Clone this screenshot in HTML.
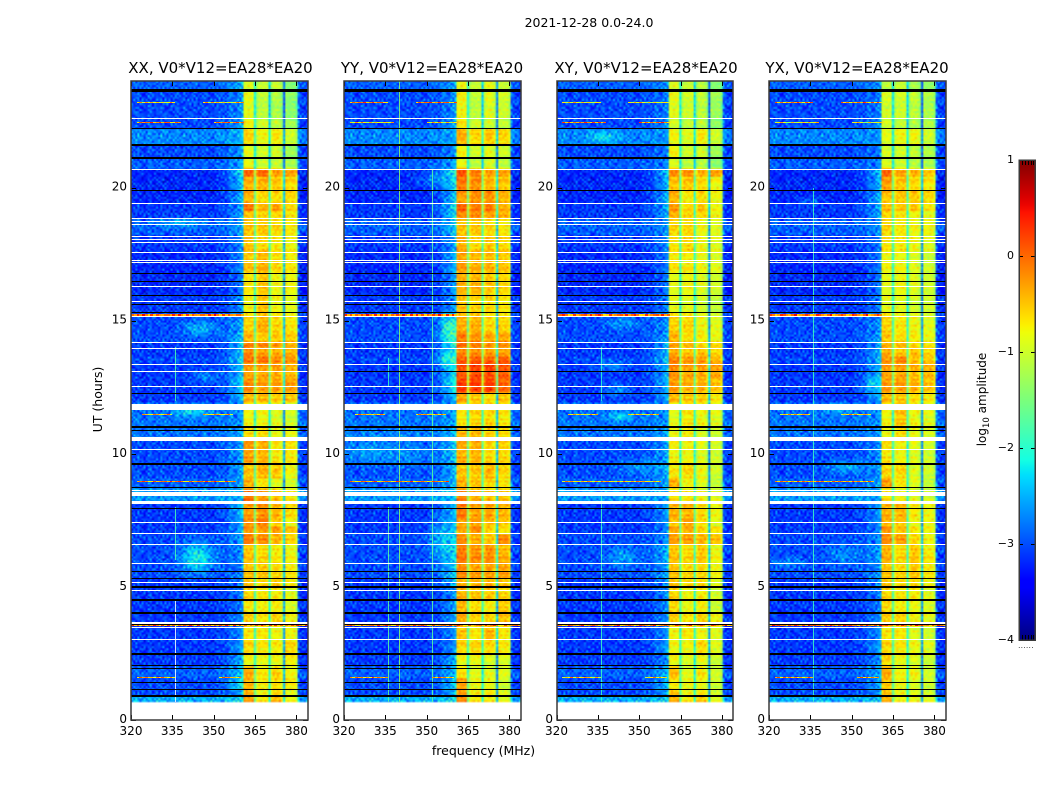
<!DOCTYPE html>
<html>
<head>
<meta charset="utf-8">
<title>2021-12-28 spectrograms</title>
<style>
html,body{margin:0;padding:0;background:#fff;}
#stage{position:relative;width:1050px;height:800px;overflow:hidden;background:#fff;}
#stage canvas{position:absolute;display:block;}
#overlay{position:absolute;left:0;top:0;}
text{font-family:"DejaVu Sans","Liberation Sans",sans-serif;fill:#000;}
</style>
</head>
<body>
<div id="stage">
<svg id="overlay" width="1050" height="800" viewBox="0 0 1050 800" xmlns="http://www.w3.org/2000/svg">
<text x="589" y="27" font-size="12.5" text-anchor="middle">2021-12-28 0.0-24.0</text>
<text x="483.5" y="755" font-size="12.5" text-anchor="middle">frequency (MHz)</text>
<text x="0" y="0" font-size="12.5" text-anchor="middle" transform="translate(102 399.5) rotate(-90)">UT (hours)</text>
<text x="0" y="0" font-size="12" text-anchor="middle" transform="translate(986 399.5) rotate(-90)">log<tspan font-size="8.5" dy="3">10</tspan><tspan dy="-3"> amplitude</tspan></text>
<text x="1026" y="648" font-size="7" fill="#666" text-anchor="middle" letter-spacing="0.4">......</text>
</svg>
</div>
<script>
// ---------- chart data ----------
const panelTitles = ['XX, V0*V12=EA28*EA20','YY, V0*V12=EA28*EA20','XY, V0*V12=EA28*EA20','YX, V0*V12=EA28*EA20'];
const xTicks = [320,335,350,365,380];
const yTicks = [0,5,10,15,20];
const colorbarTicks = [1,0,-1,-2,-3,-4];
const dataFloorUT = 0.68;
// Top edge (UT hours) of each time segment.
const segmentTops = [24,23.6,22.6,22.2,21.6,21.1,20.7,20.4,19.9,19.4,19.15,18.8,18.2,17.6,16.8,16,15.3,14.55,14.2,14,13.65,13.4,12.8,12.3,11.9,11.05,10.5,9.65,9.1,8.7,8.15,7.6,7.3,7,6.6,5.9,5.35,4.95,4.5,4,3.5,3,2.5,2.05,1.6,1.15,0.9];
// log10 amplitude x10, off-band background per segment.
const backgroundLevels = [-29,-30,-30,-27,-30,-29,-32,-32,-32,-31,-31,-29,-31,-32,-32,-31,-30,-30,-31,-31,-30,-31,-31,-31,-28,-28,-30,-30,-29,-26,-31,-31,-31,-30,-30,-30,-31,-31,-31,-31,-31,-31,-31,-29,-30,-30,-25];
// log10 amplitude x10 per segment: [near-band shoulder, sub-band 1, 2, 3, 4]
const levelsXX = [[-24,-8,-9,-9,-13],[-26,-8,-10,-11,-13],[-25,-7,-9,-10,-12],[-24,-5,-7,-6,-9],[-25,-8,-9,-9,-12],[-25,-7,-9,-9,-11],[-21,1,1,-2,-2],[-23,-3,-3,-4,-5],[-24,-3,-5,-5,-5],[-25,0,-3,-2,-5],[-25,-4,-5,-5,-6],[-25,-4,-4,-5,-6],[-26,-4,-5,-6,-7],[-26,-4,-3,-5,-6],[-27,-6,-4,-7,-7],[-26,-7,-4,-7,-8],[-25,-5,-3,-5,-6],[-23,-3,-4,-4,-4],[-23,0,0,-1,-3],[-23,-1,-2,-3,-3],[-22,1,1,0,-1],[-23,-2,-2,-2,-3],[-22,-1,-2,-2,-2],[-24,-3,-3,-4,-4],[-26,-7,-7,-8,-9],[-25,-5,-5,-7,-7],[-25,-2,-3,-6,-6],[-25,-4,-3,-4,-7],[-25,-3,-6,-8,-9],[-24,0,-2,-4,-6],[-23,-2,-1,-3,-5],[-25,-1,0,-4,-7],[-24,-2,-2,-2,-4],[-25,0,-1,-3,-5],[-26,-4,-5,-6,-7],[-27,-4,-4,-5,-6],[-27,-4,-5,-4,-6],[-27,-5,-6,-6,-8],[-27,-6,-6,-6,-8],[-26,-5,-6,-5,-7],[-26,-6,-6,-7,-7],[-25,-5,-6,-6,-5],[-24,-7,-7,-7,-6],[-23,-3,-6,-5,-7],[-21,-3,-6,-5,-6],[-25,-3,-7,-5,-8],[-22,-2,-6,-3,-7]];
const levelsYY = [[-25,-7,-9,-7,-9],[-26,-7,-10,-8,-9],[-25,-6,-9,-9,-10],[-25,-3,-5,-4,-5],[-26,-7,-9,-8,-9],[-25,-7,-10,-8,-10],[-20,2,0,-2,-2],[-22,0,-1,-3,-4],[-23,-2,-1,-1,-3],[-21,1,0,0,-3],[-22,-1,-1,-2,-3],[-23,-4,-4,-5,-6],[-25,-3,-5,-4,-5],[-24,-2,-3,-3,-4],[-25,-3,-3,-4,-5],[-26,-4,-5,-5,-6],[-24,-3,-3,-5,-5],[-21,0,-1,-2,-2],[-20,1,0,-1,-1],[-22,-1,-1,-2,-2],[-20,2,2,2,2],[-21,2,3,3,2],[-20,3,3,3,1],[-24,-2,-4,-5,-4],[-25,-6,-5,-5,-6],[-24,-3,-3,-4,-5],[-23,-3,-3,-5,-5],[-24,-4,-4,-3,-5],[-24,-3,-4,-5,-6],[-23,-1,-3,-4,-4],[-24,0,-2,-2,-3],[-25,-2,-2,-3,-4],[-24,-3,-1,-5,-6],[-24,-1,-3,-4,-1],[-23,0,-1,-1,-3],[-23,-1,-2,-2,-2],[-24,-3,-3,-3,-4],[-26,-3,-4,-4,-5],[-25,-3,-5,-6,-4],[-25,-3,-5,-5,-4],[-26,-4,-6,-3,-6],[-26,-5,-5,-5,-6],[-24,-7,-7,-8,-8],[-24,-6,-8,-8,-8],[-23,-2,-7,-7,-9],[-24,-2,-6,-6,-8],[-22,-1,-6,-6,-8]];
const levelsXY = [[-26,-8,-9,-10,-13],[-27,-8,-9,-10,-12],[-26,-9,-10,-10,-13],[-26,-7,-8,-6,-9],[-27,-7,-9,-9,-12],[-27,-8,-10,-10,-13],[-23,-1,-1,-3,-2],[-24,-4,-4,-5,-7],[-24,-3,-6,-5,-7],[-24,-2,-5,-4,-7],[-25,-3,-5,-5,-7],[-26,-5,-5,-7,-8],[-26,-6,-5,-7,-8],[-27,-6,-6,-7,-8],[-27,-8,-7,-8,-9],[-27,-8,-8,-9,-10],[-26,-5,-5,-7,-8],[-25,-3,-5,-6,-7],[-24,-2,-3,-5,-5],[-24,-3,-4,-4,-5],[-23,0,-1,-1,-3],[-24,-1,-2,-2,-2],[-24,-2,-3,-3,-4],[-25,-3,-4,-4,-6],[-26,-8,-6,-7,-8],[-25,-7,-6,-8,-9],[-25,-7,-7,-8,-9],[-25,-6,-5,-7,-9],[-25,-3,-7,-8,-10],[-25,-6,-6,-7,-8],[-25,-3,-3,-5,-7],[-26,-4,-2,-5,-8],[-26,-3,-3,-5,-6],[-26,-2,-2,-3,-4],[-24,-4,-5,-4,-7],[-25,-4,-5,-5,-7],[-26,-4,-5,-5,-8],[-26,-5,-7,-6,-9],[-26,-5,-7,-6,-9],[-26,-5,-6,-5,-7],[-26,-7,-6,-7,-8],[-25,-7,-7,-5,-8],[-26,-7,-8,-7,-9],[-24,-4,-8,-6,-9],[-24,-6,-7,-7,-9],[-25,-4,-7,-6,-9],[-23,-3,-6,-4,-8]];
const levelsYX = [[-26,-10,-9,-11,-12],[-27,-9,-9,-10,-11],[-26,-9,-10,-11,-11],[-26,-8,-7,-7,-9],[-27,-9,-9,-10,-11],[-27,-8,-9,-10,-11],[-23,1,-2,-3,-4],[-24,-2,-4,-5,-6],[-24,-4,-4,-4,-5],[-24,-4,-4,-4,-6],[-25,-5,-6,-7,-8],[-26,-5,-6,-7,-7],[-27,-6,-6,-7,-8],[-27,-7,-7,-8,-9],[-27,-8,-7,-8,-9],[-27,-8,-8,-9,-9],[-26,-5,-6,-7,-8],[-25,-4,-5,-6,-7],[-25,-3,-3,-5,-6],[-24,-3,-4,-4,-5],[-24,-1,0,-3,-4],[-24,-2,-2,-3,-3],[-24,-2,-2,-3,-4],[-25,-3,-4,-5,-6],[-26,-7,-4,-7,-8],[-26,-7,-5,-7,-8],[-26,-6,-7,-8,-9],[-26,-5,-5,-8,-9],[-25,-2,-6,-8,-10],[-25,-6,-7,-8,-9],[-25,-3,-3,-6,-7],[-26,-3,-4,-7,-7],[-26,-2,-4,-6,-7],[-26,-1,-2,-5,-7],[-25,-3,-5,-4,-6],[-26,-4,-5,-4,-6],[-26,-4,-5,-5,-7],[-27,-5,-6,-6,-8],[-27,-5,-6,-7,-8],[-26,-5,-5,-7,-8],[-26,-6,-6,-8,-9],[-25,-5,-6,-7,-8],[-26,-5,-7,-8,-9],[-25,-3,-7,-7,-9],[-25,-4,-7,-8,-9],[-26,-4,-7,-8,-9],[-24,-3,-7,-7,-8]];
// Diffuse brightenings: [MHz, UT, MHz radius, hour radius, log10 boost]
const blobsXX = [[344,6.1,6,0.55,0.9],[345,14.7,6,0.3,0.55],[342,11.6,6,0.2,0.6],[347,12.9,5,0.25,0.4],[338,18.7,8,0.2,0.4]];
const blobsYY = [[358,14.7,3,0.45,0.8],[328,10.1,10,0.5,0.4],[344,10,10,0.6,0.3],[357,13.6,3,0.3,0.5],[352,20.3,6,0.3,0.4],[355,6.8,5,0.8,0.4]];
const blobsXY = [[344,6.1,6,0.4,0.45],[344,14.9,6,0.25,0.4],[340,13.3,6,0.2,0.4],[342,12.4,5,0.25,0.4],[343,11.4,4,0.15,0.6],[350,9.5,8,0.3,0.35],[337,21.9,5,0.2,0.5]];
const blobsYX = [[347,6.2,6,0.4,0.35],[348,9.5,7,0.25,0.5],[357,12.6,3,0.3,0.4],[345,11.7,5,0.2,0.4],[327,5.9,6,0.2,0.35],[335,19.5,4,0.15,0.35]];
// Four receiver sub-bands [start, end] in MHz.
const subBandStart = [360.5,365.5,370.5,375.5];
const subBandEnd = [364.6,369.8,374.9,380];
const gapOffset = [-13,-14,-19];
const bandBias = -0.08;
// Flagged integrations: white = missing data, black = zero data. [UT, thickness hours]
const whiteFlags = [[22.58,0.04],[20.69,0.04],[19.41,0.04],[18.83,0.04],[18.72,0.04],[18.62,0.04],[18.15,0.04],[18.05,0.04],[17.92,0.04],[17.57,0.04],[17.27,0.04],[17.19,0.04],[16.29,0.04],[15.73,0.04],[15.16,0.04],[14.19,0.04],[13.96,0.04],[13.36,0.04],[12.52,0.04],[11.76,0.225],[10.56,0.15],[10.17,0.04],[8.61,0.04],[8.49,0.15],[8.17,0.1],[7.43,0.04],[7.01,0.04],[6.6,0.04],[5.89,0.04],[5.16,0.04],[4.87,0.04],[3.64,0.06],[3.48,0.04],[3.03,0.04]];
const blackFlags = [[23.64,0.11],[22.21,0.04],[21.59,0.08],[21.11,0.08],[19.89,0.04],[16.78,0.04],[16.48,0.04],[15.95,0.04],[15.62,0.04],[15.32,0.04],[12.28,0.04],[11,0.08],[10.87,0.04],[9.63,0.06],[8.72,0.04],[7.95,0.04],[5.58,0.04],[5.33,0.04],[5.01,0.08],[4.51,0.08],[4.02,0.08],[3.57,0.04],[2.5,0.07],[2.04,0.04],[1.94,0.04],[1.4,0.04],[1.15,0.04],[0.9,0.08]];
// The UT 13.08 integration is white in XX and black in the other three panels.
const xxOnlyWhiteFlags = [[13.08,0.04]];
const otherBlackFlags = [[13.08,0.04]];
// Narrow-band horizontal interference.
const rfiUT = [23.2,22.46,15.25,3.6,8.98,11.5,1.6];
const rfiRowHeights = [1,1,2,2,1,1,1];
const rfiSpans = [[[322,336],[346,361]],[[322,338],[350,361]],[[320,361]],[[320,384]],[[322,358]],[[324,335],[346,357]],[[322,336],[352,360]]];
const rfiLevelsXX = [-7,-2,-1,-2,-3,-5,-4];
const rfiLevelsYY = [-2,-7,-1,-3,-3,-5,-4];
const rfiLevelsXY = [-8,-2,-2,-2,-6,-7,-6];
const rfiLevelsYX = [-3,-9,-1,-1,-4,-6,-4];
// Vertical interference: [MHz, UT from, UT to, level x10]; null level = white.
const vlinesXX = [[336,0.68,4.5,null],[336,6,8,-18],[336,12,14,-18]];
const vlinesYY = [[340,0.68,24,-14],[352,0.68,20.7,-17],[336,0.68,8,-17],[336,12.5,13.6,-19]];
const vlinesXY = [[336,0.68,8.5,-19],[336,12,14,-20]];
const vlinesYX = [[336,0.68,20,-19]];
// Estimated cell-to-cell speckle texture (hand-entered lookup digits, not per-cell readings).
const speckleTileA = ['27148305926','63950271484','18462937051','50739164827','94215780360','36081542971','72594016238'];
const speckleTileB = ['4918273605149','0736591482670','5283940716325','8160527394081','3695018246739','7402863159024','1957340628416','6284715093852','0539182476307'];
const bandRowRipple = '40716295381640927351864072935';

// ---------- layout and axis functions ----------
const panelLeft = [131,344,556.5,769];
const titleCentre = [220.5,432,646,857];
const panelWidth = 176.5;
const plotTop = 81;
const plotBottom = 720;
const xMin = 320;
const xMax = 384;
const yMax = 24;
const cols = 85;
const rows = 320;
const cbLeft = 1019;
const cbRight = 1035;
const cbTop = 160;
const cbBottom = 640;
const NS = 'http://www.w3.org/2000/svg';
const overlay = document.getElementById('overlay');
const stage = document.getElementById('stage');

function xScale(p, mhz){ return panelLeft[p] + (mhz - xMin) / (xMax - xMin) * panelWidth; }
function yScale(ut){ return plotBottom - ut / yMax * (plotBottom - plotTop); }
function cbScale(v){ return cbBottom - (v + 4) / 5 * (cbBottom - cbTop); }
function lerp(xs, ys, t){
  for (let i = 1; i < xs.length; i++) {
    if (t <= xs[i]) return ys[i-1] + (ys[i]-ys[i-1]) * (t-xs[i-1]) / (xs[i]-xs[i-1]);
  }
  return ys[ys.length-1];
}
function jet(v){
  const t = Math.max(0, Math.min(1, (v + 4) / 5));
  const r = lerp([0,0.35,0.66,0.89,1],[0,0,1,1,0.5],t);
  const g = lerp([0,0.125,0.375,0.64,0.91,1],[0,0,1,1,0,0],t);
  const b = lerp([0,0.11,0.34,0.65,1],[0.5,1,1,0,0],t);
  return 'rgb(' + Math.round(r*255) + ',' + Math.round(g*255) + ',' + Math.round(b*255) + ')';
}
function make(tag, attrs, parent){
  const el = document.createElementNS(NS, tag);
  for (const k in attrs) el.setAttribute(k, attrs[k]);
  (parent || overlay).appendChild(el);
  return el;
}
function segmentIndex(ut){
  for (let s = segmentTops.length - 1; s >= 0; s--) {
    if (ut <= segmentTops[s] && (s === segmentTops.length - 1 || ut > segmentTops[s+1])) return s;
  }
  return 0;
}

function cellValue(levels, blobs, mhz, ut, row, col){
  const s = segmentIndex(ut);
  const lv = levels[s] || levels[levels.length-1];
  const bg = (backgroundLevels[s] === undefined ? -30 : backgroundLevels[s]) / 10;
  const tile = (speckleTileA[row % 7].charCodeAt(col % 11) - 48) + (speckleTileB[row % 9].charCodeAt(col % 13) - 48) - 9;
  const ripple = bandRowRipple.charCodeAt(row % 29) - 52.5;
  if (mhz >= subBandStart[0] && mhz < subBandEnd[3]) {
    for (let b = 0; b < 4; b++) {
      if (mhz >= subBandStart[b] && mhz <= subBandEnd[b]) {
        const edge = Math.min(mhz - subBandStart[b], subBandEnd[b] - mhz) < 0.45 ? -0.25 : 0;
        return lv[b+1] / 10 + bandBias + edge + tile * 0.03 + ripple * 0.03;
      }
      if (b < 3 && mhz > subBandEnd[b] && mhz < subBandStart[b+1]) {
        return (lv[b+1] + gapOffset[b]) / 10 + tile * 0.03;
      }
    }
  }
  let base = bg;
  if (mhz >= xMin && mhz < subBandStart[0] && mhz > 350) {
    const w = Math.pow((mhz - 350) / 10.5, 1.6);
    base = bg + (lv[0] / 10 - bg) * w;
  }
  if (mhz >= subBandEnd[3]) base = bg - 0.05 + Math.max(0, 381.5 - mhz) * 0.12;
  for (let i = 0; i < blobs.length; i++) {
    const bl = blobs[i];
    const dx = (mhz - bl[0]) / bl[2];
    const dy = (ut - bl[1]) / bl[3];
    base += bl[4] * Math.exp(-(dx*dx + dy*dy));
  }
  return base + tile * 0.065;
}

const allLevels = [levelsXX, levelsYY, levelsXY, levelsYX];
const allBlobs = [blobsXX, blobsYY, blobsXY, blobsYX];
const allRfi = [rfiLevelsXX, rfiLevelsYY, rfiLevelsXY, rfiLevelsYX];
const allVlines = [vlinesXX, vlinesYY, vlinesXY, vlinesYX];
const panelNames = ['xx','yy','xy','yx'];

function addFlags(group, p, flags, colour, label){
  const x0 = Math.round(xScale(p, xMin));
  const x1 = Math.round(xScale(p, xMax));
  flags.forEach(function(f){
    const y = Math.round(yScale(f[0] + f[1]/2));
    const h = Math.max(1, Math.round(f[1] * (plotBottom - plotTop) / yMax));
    const r = make('rect', {x:x0, y:y, width:x1-x0, height:h, fill:colour}, group);
    
    
  });
}

panelNames.forEach(function(name, p){
  // heatmap cells
  const canvas = document.createElement('canvas');
  
  
  canvas.width = cols;
  canvas.height = rows;
  canvas.style.left = panelLeft[p] + 'px';
  canvas.style.top = plotTop + 'px';
  canvas.style.width = panelWidth + 'px';
  canvas.style.height = (plotBottom - plotTop) + 'px';
  stage.insertBefore(canvas, overlay);
  const ctx = canvas.getContext('2d');
  for (let j = 0; j < rows; j++) {
    const ut = yMax * (1 - (j + 0.5) / rows);
    if (ut < dataFloorUT) continue;
    for (let i = 0; i < cols; i++) {
      const mhz = xMin + (i + 0.5) / cols * (xMax - xMin);
      ctx.fillStyle = jet(cellValue(allLevels[p], allBlobs[p], mhz, ut, j, i));
      ctx.fillRect(i, j, 1, 1);
    }
  }
  const g = make('g', {'shape-rendering':'crispEdges'});
  
  

  // vertical interference
  allVlines[p].forEach(function(v){
    const y0 = Math.round(yScale(v[2]));
    const y1 = Math.round(yScale(v[1]));
    const r = make('rect', {x:Math.round(xScale(p, v[0])), y:y0, width:1, height:y1-y0, fill: v[3] === null ? '#f4fbff' : jet(v[3]/10), opacity:0.85}, g);
    
    
  });

  // horizontal interference
  rfiUT.forEach(function(ut, k){
    rfiSpans[k].forEach(function(span){
      for (let mhz = span[0], n = 0; mhz < span[1]; mhz += 1, n++) {
        const d = speckleTileB[(k + p) % 9].charCodeAt(n % 13) - 52;
        const x0 = Math.round(xScale(p, mhz));
        const x1 = Math.round(xScale(p, Math.min(mhz + 1, span[1])));
        const r = make('rect', {x:x0, y:Math.round(yScale(ut)), width:x1-x0, height:rfiRowHeights[k], fill:jet(allRfi[p][k]/10 + d*0.12)}, g);
        
        
      }
    });
  });

  // flagged integrations
  addFlags(g, p, whiteFlags, '#ffffff', 'missing-data-row');
  addFlags(g, p, blackFlags, '#000000', 'zero-data-row');
  if (p === 0) addFlags(g, p, xxOnlyWhiteFlags, '#ffffff', 'missing-data-row');
  else addFlags(g, p, otherBlackFlags, '#000000', 'zero-data-row');

  // ticks
  const frameLeft = Math.round(xScale(p, xMin));
  const frameRight = Math.round(xScale(p, xMax));
  xTicks.forEach(function(t){
    const x = Math.round(xScale(p, t)) + 0.5;
    const a = make('line', {x1:x, x2:x, y1:plotBottom, y2:plotBottom-5, stroke:'#000', 'stroke-width':1}, g);
    
    
    const b = make('line', {x1:x, x2:x, y1:plotTop, y2:plotTop+5, stroke:'#000', 'stroke-width':1}, g);
    
    
    const label = make('text', {x:xScale(p, t), y:735, 'font-size':12, 'text-anchor':'middle'});
    
    
    label.textContent = String(t);
  });
  yTicks.forEach(function(t){
    const y = Math.round(yScale(t)) + 0.5;
    const a = make('line', {x1:frameLeft, x2:frameLeft+5, y1:y, y2:y, stroke:'#000', 'stroke-width':1}, g);
    
    
    const b = make('line', {x1:frameRight, x2:frameRight-5, y1:y, y2:y, stroke:'#000', 'stroke-width':1}, g);
    
    
    const label = make('text', {x:frameLeft-4, y:yScale(t)+3, 'font-size':12, 'text-anchor':'end'});
    
    
    label.textContent = String(t);
  });

  // frame and title
  const frame = make('rect', {x:frameLeft, y:plotTop, width:frameRight-frameLeft, height:plotBottom-plotTop, fill:'none', stroke:'#3a3a3a', 'stroke-width':1.5});
  
  
  const title = make('text', {x:titleCentre[p], y:73, 'font-size':15, 'text-anchor':'middle'});
  
  
  title.textContent = panelTitles[p];
});

// ---------- colour bar ----------
const defs = make('defs', {});
const grad = make('linearGradient', {id:'jetRamp', x1:0, y1:1, x2:0, y2:0}, defs);
for (let n = 0; n <= 64; n++) {
  make('stop', {offset:(n/64), 'stop-color':jet(-4 + 5*n/64)}, grad);
}
const cbFill = make('rect', {x:cbLeft, y:cbTop, width:cbRight-cbLeft, height:cbBottom-cbTop, fill:'url(#jetRamp)'});


colorbarTicks.forEach(function(v){
  const y = Math.round(cbScale(v)) + 0.5;
  const a = make('line', {x1:cbLeft, x2:cbLeft+4, y1:y, y2:y, stroke:'#000', 'stroke-width':1, 'shape-rendering':'crispEdges'});
  
  
  const b = make('line', {x1:cbRight, x2:cbRight-4, y1:y, y2:y, stroke:'#000', 'stroke-width':1, 'shape-rendering':'crispEdges'});
  
  
  const label = make('text', {x:1014, y:cbScale(v)+3, 'font-size':11, 'text-anchor':'end'});
  
  
  label.textContent = v < 0 ? '\u2212' + Math.abs(v) : String(v);
});
[1022,1025,1028,1031,1033].forEach(function(x){
  const top = make('line', {x1:x+0.5, x2:x+0.5, y1:cbTop, y2:cbTop+5, stroke:'#000', 'stroke-width':1, 'shape-rendering':'crispEdges'});
  
  
  const bottom = make('line', {x1:x+0.5, x2:x+0.5, y1:cbBottom, y2:cbBottom-5, stroke:'#000', 'stroke-width':1, 'shape-rendering':'crispEdges'});
  
  
});
const cbFrame = make('rect', {x:cbLeft, y:cbTop, width:cbRight-cbLeft, height:cbBottom-cbTop, fill:'none', stroke:'#3a3a3a', 'stroke-width':1.5, 'shape-rendering':'crispEdges'});


</script>
</body>
</html>
